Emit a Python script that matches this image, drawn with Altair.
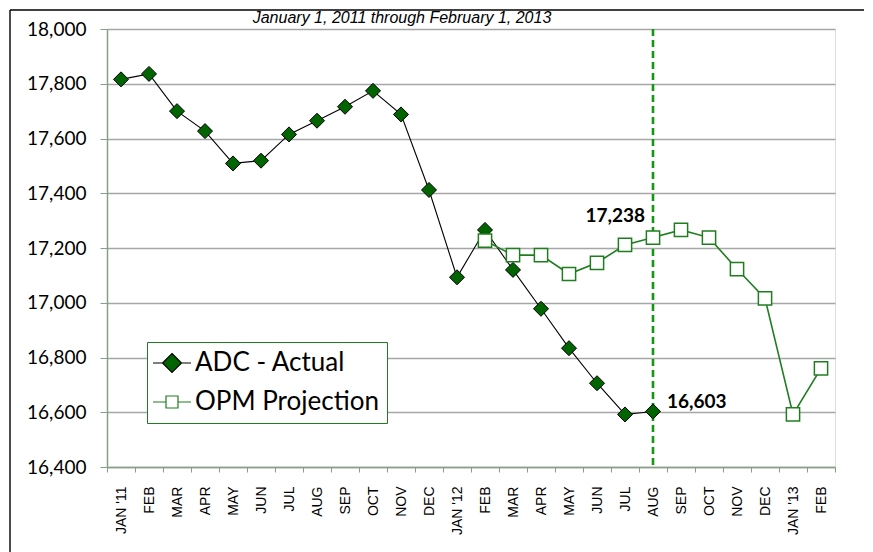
import json
import altair as alt
import pandas as pd

# ---------------- data ----------------
month_labels = ["JAN '11", "FEB", "MAR", "APR", "MAY", "JUN", "JUL", "AUG", "SEP", "OCT", "NOV", "DEC",
                "JAN '12", "FEB", "MAR", "APR", "MAY", "JUN", "JUL", "AUG", "SEP", "OCT", "NOV", "DEC",
                "JAN '13", "FEB"]
adc_actual = [17816, 17836, 17700, 17627, 17509, 17519, 17615, 17665, 17716, 17774, 17688, 17412,
              17093, 17266, 17120, 16978, 16834, 16706, 16592, 16603]
opm_start = 13  # FEB '12
opm_projection = [17227, 17174, 17174, 17105, 17146, 17211, 17238, 17266, 17238, 17123, 17016, 16592, 16760]
marker_month = 19  # AUG '12
series_names = ["ADC - Actual", "OPM Projection"]
y_ticks = [16400, 16600, 16800, 17000, 17200, 17400, 17600, 17800, 18000]
title_text = "January 1, 2011 through February 1, 2013"

rows = [{"m": i, "series": series_names[0], "value": v} for i, v in enumerate(adc_actual)]
rows += [{"m": opm_start + j, "series": series_names[1], "value": v} for j, v in enumerate(opm_projection)]
df = pd.DataFrame(rows)

annot = pd.DataFrame([
    {"m": marker_month, "series": series_names[0], "value": adc_actual[marker_month]},
    {"m": marker_month, "series": series_names[1], "value": opm_projection[marker_month - opm_start]},
])

# ---------------- styles ----------------
W, H = 728, 438
GREEN_DARK = "#006400"
GREEN_LINE = "#1f7d1f"
AXIS_GRAY = "#86a086"
GRID_GRAY = "#a6a6a6"

x_enc = alt.X(
    "m:O",
    scale=alt.Scale(type="band", domain=list(range(len(month_labels))), paddingInner=0, paddingOuter=0),
    axis=alt.Axis(
        title=None,
        labelExpr=json.dumps(month_labels) + "[datum.value]",
        labelAngle=-90, labelAlign="right", labelBaseline="middle",
        labelFont="Liberation Sans", labelFontSize=14, labelColor="black",
        labelPadding=14, tickBand="extent", tickSize=5, tickColor=AXIS_GRAY,
        domainColor=AXIS_GRAY, domainWidth=1.5, grid=False,
    ),
)
y_enc = alt.Y(
    "value:Q",
    scale=alt.Scale(domain=[y_ticks[0], y_ticks[-1]], nice=False, zero=False),
    axis=alt.Axis(
        title=None, values=y_ticks, labelExpr="format(datum.value, ',')",
        labelFont="Lato", labelFontSize=19, labelColor="black", labelPadding=14,
        tickSize=7, tickColor=AXIS_GRAY, domainColor=AXIS_GRAY, domainWidth=1.5,
        grid=True, gridColor=GRID_GRAY, gridWidth=1.5,
    ),
)

base = alt.Chart(df)
adc = base.transform_filter(alt.datum.series == series_names[0])
opm = base.transform_filter(alt.datum.series == series_names[1])

adc_line = adc.mark_line(color="black", strokeWidth=1.1).encode(x=x_enc, y=y_enc)
adc_pts = adc.mark_point(shape="diamond", size=225, filled=True, fill=GREEN_DARK, stroke="black",
                         strokeWidth=1, opacity=1).encode(x=x_enc, y=y_enc)
opm_line = opm.mark_line(color=GREEN_LINE, strokeWidth=1.6).encode(x=x_enc, y=y_enc)
opm_pts = opm.mark_point(shape="square", size=175, filled=True, fill="white", stroke=GREEN_LINE,
                         strokeWidth=1.5, opacity=1).encode(x=x_enc, y=y_enc)

rule = alt.Chart(pd.DataFrame({"m": [marker_month]})).mark_rule(
    color="#119a11", strokeDash=[7, 4], strokeWidth=2.6).encode(x=x_enc)

# legend (symbols: line + marker)
diamond_leg = "M-2,0H-1M1,0H2M0,-1L1,0L0,1L-1,0Z"
square_leg = "M-2,0H-0.63M0.63,0H2M-0.63,-0.63H0.63V0.63H-0.63Z"
leg = alt.Legend(
    title=None, orient="none", legendX=40, legendY=313,
    labelFont="Lato", labelFontSize=26, labelColor="black", labelLimit=400,
    symbolSize=361, symbolStrokeWidth=1.2, symbolOpacity=1,
    symbolOffset=4, labelOffset=10, rowPadding=13, padding=8,
    strokeColor=GREEN_LINE, fillColor="white",
)
legend_layer = base.mark_point(filled=True, opacity=0).encode(
    x=x_enc, y=y_enc,
    shape=alt.Shape("series:N", scale=alt.Scale(domain=series_names, range=[diamond_leg, square_leg]), legend=leg),
    fill=alt.Fill("series:N", scale=alt.Scale(domain=series_names, range=[GREEN_DARK, "white"]), legend=leg),
    stroke=alt.Stroke("series:N", scale=alt.Scale(domain=series_names, range=["black", GREEN_LINE]), legend=leg),
)

annot_opm = alt.Chart(annot).transform_filter(alt.datum.series == series_names[1]).mark_text(
    align="right", baseline="middle", dx=-8, dy=-22, font="Lato", fontSize=19, fontWeight="bold",
    color="black").encode(x=x_enc, y=y_enc, text=alt.Text("value:Q", format=","))
annot_adc = alt.Chart(annot).transform_filter(alt.datum.series == series_names[0]).mark_text(
    align="left", baseline="middle", dx=14, dy=-9, font="Lato", fontSize=19, fontWeight="bold",
    color="black").encode(x=x_enc, y=y_enc, text=alt.Text("value:Q", format=","))

one = pd.DataFrame({"t": [title_text]})
frame_top = alt.Chart(one).mark_rule(stroke="black", strokeWidth=1.4).encode(
    x=alt.value(-97), x2=alt.value(757), y=alt.value(-19))
frame_left = alt.Chart(one).mark_rule(stroke="black", strokeWidth=1.4).encode(
    x=alt.value(-97), y=alt.value(-19), y2=alt.value(700))
title = alt.Chart(one).mark_text(
    font="Liberation Sans", fontSize=16, fontStyle="italic", color="black",
    align="center", baseline="alphabetic").encode(x=alt.value(295), y=alt.value(-6), text="t:N")

chart = alt.layer(
    frame_top, frame_left, title, rule, adc_line, adc_pts, opm_line, opm_pts, legend_layer,
    annot_opm, annot_adc
).properties(
    width=W, height=H,
    autosize=alt.AutoSizeParams(type="none"),
    padding={"left": 99, "top": 21, "right": 30, "bottom": 85},
).configure_view(
    stroke=GREEN_LINE, strokeWidth=1.5
).configure(background="white")

chart.save("out.html", embed_options={"renderer": "svg", "actions": False})
